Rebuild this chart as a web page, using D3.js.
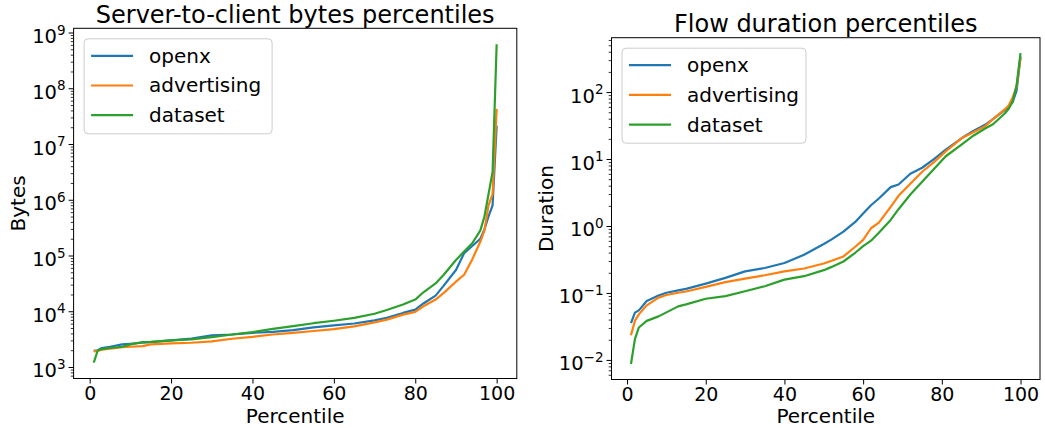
<!DOCTYPE html>
<html>
<head>
<meta charset="utf-8">
<script src="https://cdn.jsdelivr.net/npm/d3@7"></script>
<style>
  body { margin: 0; background: #fff; }
  text { font-family: "DejaVu Sans", sans-serif; fill: #000; }
</style>
</head>
<body>
<svg id="chart" width="1045" height="428"></svg>
<script>
const seriesNames = ["openx", "advertising", "dataset"];
const seriesColors = ["#1f77b4", "#ff7f0e", "#2ca02c"];
const xTicks = [0, 20, 40, 60, 80, 100];

// server-to-client bytes
const bytesPct = [1, 2, 3, 5, 8, 10, 13, 15, 20, 25, 30, 35, 40, 45, 50, 55, 60, 65, 70, 73, 77, 80, 82, 85, 87, 90, 92, 94, 96, 97, 98, 99, 100];
const bytesOpenx = [1950, 1995, 2190, 2310, 2540, 2610, 2720, 2790, 3000, 3240, 3680, 3830, 4100, 4270, 4570, 5130, 5560, 6030, 6840, 7590, 9330, 10700, 13800, 19100, 28800, 55000, 109600, 147900, 199500, 295000, 501000, 794000, 21400000];
const bytesAdvertising = [1905, 1950, 2040, 2140, 2280, 2310, 2370, 2540, 2650, 2720, 2880, 3210, 3470, 3830, 4100, 4420, 4790, 5370, 6310, 7080, 8710, 9770, 12300, 16200, 21400, 33900, 45200, 85100, 177800, 281800, 794000, 1259000, 42700000];
const bytesDataset = [1200, 1995, 2090, 2190, 2310, 2540, 2790, 2820, 3000, 3130, 3440, 3830, 4220, 4840, 5400, 6100, 6760, 7590, 9020, 10500, 13200, 16200, 21900, 31600, 45200, 83200, 117500, 166000, 281800, 501000, 1259000, 3162000, 616600000];

// flow duration
const durPct = [1, 2, 3, 5, 8, 10, 13, 15, 20, 25, 30, 35, 40, 45, 50, 52, 55, 58, 60, 62, 64, 67, 69, 72, 75, 78, 81, 85, 88, 91, 93, 96, 97, 98, 99, 100];
const durOpenx = [0.0353, 0.0509, 0.055, 0.0759, 0.0918, 0.1007, 0.109, 0.115, 0.138, 0.168, 0.21, 0.236, 0.28, 0.372, 0.537, 0.631, 0.824, 1.15, 1.54, 2.04, 2.57, 3.8, 4.17, 6.03, 7.41, 10, 13.8, 20.4, 26.3, 32.4, 39.4, 53.7, 60.3, 70.8, 105, 339];
const durAdvertising = [0.0234, 0.0383, 0.0479, 0.0653, 0.0851, 0.0933, 0.1007, 0.105, 0.123, 0.145, 0.164, 0.184, 0.21, 0.232, 0.275, 0.302, 0.351, 0.49, 0.621, 0.925, 1.12, 1.93, 2.82, 4.27, 6.46, 8.97, 13.0, 20.4, 25.1, 30.9, 39.4, 55.0, 63.1, 83.2, 120, 324];
const durDataset = [0.0087, 0.0204, 0.0305, 0.0383, 0.0447, 0.0513, 0.063, 0.0676, 0.082, 0.0897, 0.106, 0.126, 0.158, 0.178, 0.219, 0.245, 0.295, 0.398, 0.501, 0.603, 0.794, 1.23, 1.78, 2.95, 4.57, 7.08, 11.0, 16.4, 22.3, 28.5, 33.1, 47.9, 56.2, 72.4, 126, 380];

const svg = d3.select("#chart");

function drawPanel(cfg) {
  const g = svg.append("g");
  const w = cfg.right - cfg.left, h = cfg.bottom - cfg.top;

  const x = d3.scaleLinear().domain([-3.95, 104.95]).range([cfg.left, cfg.right]);

  // log axis with 5% margin like matplotlib
  const all = cfg.series.flat();
  const lo = Math.log10(d3.min(all)), hi = Math.log10(d3.max(all));
  const pad = (hi - lo) * 0.05;
  const y = d3.scaleLog().domain([Math.pow(10, lo - pad), Math.pow(10, hi + pad)]).range([cfg.bottom, cfg.top]);

  // x axis
  const xa = g.append("g")
    .attr("transform", "translate(0," + cfg.bottom + ")")
    .call(d3.axisBottom(x).tickValues(xTicks).tickSize(5).tickSizeOuter(0));
  xa.select(".domain").remove();
  xa.selectAll("line").attr("stroke", "#000").attr("stroke-width", 1);
  xa.selectAll("text")
    .attr("y", 21).attr("dy", null)
    .attr("font-size", "19px").attr("font-family", "DejaVu Sans").attr("fill", "#000");

  // y axis, decades + minor ticks
  const d0 = Math.ceil(lo - pad), d1 = Math.floor(hi + pad);
  const decades = d3.range(d0, d1 + 1);
  const minors = [];
  for (let e = d0 - 1; e <= d1; e++) {
    for (let m = 2; m < 10; m++) {
      const v = m * Math.pow(10, e);
      if (v >= y.domain()[0] && v <= y.domain()[1]) minors.push(v);
    }
  }
  const ym = g.append("g")
    .attr("transform", "translate(" + cfg.left + ",0)")
    .call(d3.axisLeft(y).tickValues(minors).tickSize(2.8).tickFormat(""));
  ym.select(".domain").remove();
  ym.selectAll("line").attr("stroke", "#000").attr("stroke-width", 0.8);

  const ya = g.append("g")
    .attr("transform", "translate(" + cfg.left + ",0)")
    .call(d3.axisLeft(y).tickValues(decades.map(e => Math.pow(10, e))).tickSize(5).tickFormat(""));
  ya.select(".domain").remove();
  ya.selectAll("line").attr("stroke", "#000").attr("stroke-width", 1);
  ya.selectAll(".tick").each(function (d) {
    const e = Math.round(Math.log10(d));
    const t = d3.select(this).append("text")
      .attr("x", -8).attr("y", 10)
      .attr("text-anchor", "end")
      .attr("font-size", "19.5px");
    t.append("tspan").text("10");
    t.append("tspan").attr("dy", -8.4).attr("font-size", "13.5px")
      .text(e < 0 ? "\u2212" + (-e) : String(e));
  });

  // lines
  const line = d3.line().x(d => x(d[0])).y(d => y(d[1]));
  cfg.series.forEach((vals, i) => {
    g.append("path")
      .datum(cfg.pct.map((p, k) => [p, vals[k]]))
      .attr("d", line)
      .attr("fill", "none")
      .attr("stroke", seriesColors[i])
      .attr("stroke-width", 2.2)
      .attr("stroke-linejoin", "round");
  });

  // frame
  g.append("rect")
    .attr("x", cfg.left).attr("y", cfg.top)
    .attr("width", w).attr("height", h)
    .attr("fill", "none").attr("stroke", "#000").attr("stroke-width", 1);

  // legend
  const lg = g.append("g").attr("transform", "translate(" + (cfg.left + 10.5) + "," + (cfg.top + 10.5) + ")");
  lg.append("rect")
    .attr("width", cfg.legendW).attr("height", 95)
    .attr("rx", 4).attr("fill", "#fff").attr("fill-opacity", 0.8)
    .attr("stroke", "#cccccc").attr("stroke-width", 1);
  seriesNames.forEach((name, i) => {
    const ry = 17 + i * 29.7;
    lg.append("line").attr("x1", 7).attr("x2", 49).attr("y1", ry).attr("y2", ry)
      .attr("stroke", seriesColors[i]).attr("stroke-width", 2.2);
    lg.append("text").attr("x", 65).attr("y", ry + 7).attr("font-size", "20px").text(name);
  });

  // titles and labels
  g.append("text")
    .attr("x", (cfg.left + cfg.right) / 2).attr("y", cfg.top - 5.4)
    .attr("text-anchor", "middle").attr("font-size", "24px")
    .text(cfg.title);
  g.append("text")
    .attr("x", (cfg.left + cfg.right) / 2).attr("y", 422.5)
    .attr("text-anchor", "middle").attr("font-size", "20px")
    .text("Percentile");
  g.append("text")
    .attr("transform", "translate(" + cfg.ylabelX + "," + (cfg.top + h / 2) + ") rotate(-90)")
    .attr("text-anchor", "middle").attr("font-size", "20px")
    .text(cfg.ylabel);
}

drawPanel({
  left: 73.6, right: 516.8, top: 28.3, bottom: 378.5,
  title: "Server-to-client bytes percentiles", ylabel: "Bytes", ylabelX: 25,
  pct: bytesPct, series: [bytesOpenx, bytesAdvertising, bytesDataset], legendW: 188
});
drawPanel({
  left: 611.5, right: 1040, top: 37.7, bottom: 379.5,
  title: "Flow duration percentiles", ylabel: "Duration", ylabelX: 553,
  pct: durPct, series: [durOpenx, durAdvertising, durDataset], legendW: 184
});
</script>
</body>
</html>
